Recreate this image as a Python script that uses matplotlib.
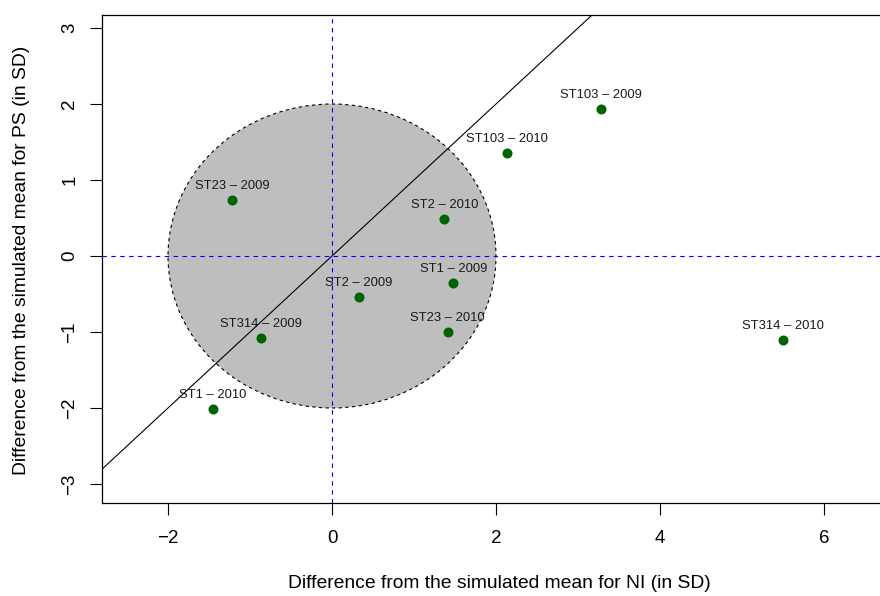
import matplotlib
matplotlib.use("Agg")
import matplotlib.pyplot as plt
from matplotlib.patches import Circle

plt.rcParams['font.family'] = ['Liberation Sans', 'DejaVu Sans']

labels = ["ST103 – 2009", "ST103 – 2010", "ST23 – 2009", "ST2 – 2010", "ST1 – 2009",
          "ST2 – 2009", "ST23 – 2010", "ST314 – 2009", "ST314 – 2010", "ST1 – 2010"]
ni_diff = [3.28, 2.13, -1.22, 1.37, 1.48, 0.33, 1.41, -0.87, 5.50, -1.45]
ps_diff = [1.93, 1.355, 0.74, 0.49, -0.355, -0.54, -1.00, -1.08, -1.105, -2.01]
x_ticks = [-2, 0, 2, 4, 6]
y_ticks = [-3, -2, -1, 0, 1, 2, 3]

W, H = 880, 596
fig = plt.figure(figsize=(W / 100, H / 100), dpi=100)
left, right, top, bottom = 102, 897, 15, 503
ax = fig.add_axes([left / W, 1 - bottom / H, (right - left) / W, (bottom - top) / H])

ppu_x = 82.0
ppu_y = 76.0
ax.set_xlim((left - 332) / ppu_x, (right - 332) / ppu_x)
ax.set_ylim((256 - bottom) / ppu_y, (256 - top) / ppu_y)

# tolerance circle of radius 2 SD
ax.add_patch(Circle((0, 0), 2, facecolor="#BEBEBE", edgecolor="black",
                    linestyle=(0, (3, 3)), linewidth=0.8, zorder=1))

# reference lines
ax.axhline(0, color="blue", linestyle=(0, (4, 4)), linewidth=0.8, zorder=2)
ax.axvline(0, color="blue", linestyle=(0, (4, 4)), linewidth=0.8, zorder=2)
ax.axline((0, 0), slope=1, color="black", linewidth=0.8, zorder=2)

ax.scatter(ni_diff, ps_diff, s=52, color="#006400", zorder=3, linewidths=0)
for lab, x, y in zip(labels, ni_diff, ps_diff):
    ax.annotate(lab, (x, y), xytext=(0, 8), textcoords="offset points",
                ha="center", va="baseline", fontsize=9.4, color="#1a1a1a", zorder=4)

ax.set_xticks(x_ticks)
ax.set_yticks(y_ticks)
ax.set_xticklabels([str(v).replace("-", "\u2212") for v in x_ticks], fontsize=13.5)
ax.set_yticklabels([str(v).replace("-", "\u2212") for v in y_ticks], fontsize=13.5,
                   rotation=90, va="center")
ax.tick_params(direction="out", length=8.5, width=0.8)
ax.tick_params(axis="x", pad=11)
ax.tick_params(axis="y", pad=8.6)
for sp in ax.spines.values():
    sp.set_linewidth(0.9)

fig.text(499.5 / W, 1 - 584 / H, "Difference from the simulated mean for NI (in SD)",
         fontsize=13.9, ha="center", va="center")
fig.text(22 / W, 1 - 260 / H, "Difference from the simulated mean for PS (in SD)",
         fontsize=13.9, ha="center", va="center", rotation=90)

fig.savefig("out.png", dpi=100)
